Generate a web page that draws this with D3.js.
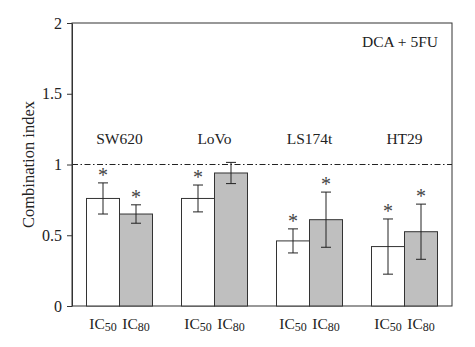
<!DOCTYPE html>
<html>
<head>
<meta charset="utf-8">
<script src="https://cdn.jsdelivr.net/npm/d3@7"></script>
<style>
  body { margin: 0; background: #fff; }
  text { font-family: "Liberation Serif", "DejaVu Serif", serif; fill: #222; }
</style>
</head>
<body>
<svg id="chart"></svg>
<script>
const cellLines = ["SW620", "LoVo", "LS174t", "HT29"];
const doses = ["IC50", "IC80"];
const ic50Values = [0.76, 0.76, 0.46, 0.42];
const ic50Errors = [0.11, 0.095, 0.085, 0.195];
const ic80Values = [0.65, 0.94, 0.61, 0.525];
const ic80Errors = [0.065, 0.075, 0.195, 0.195];
const yTicks = [0, 0.5, 1, 1.5, 2];

const data = [];
cellLines.forEach((c, i) => {
    data.push({ cell: c, dose: "IC50", value: ic50Values[i], err: ic50Errors[i] });
    data.push({ cell: c, dose: "IC80", value: ic80Values[i], err: ic80Errors[i] });
});

const W = 475, H = 347;
const margin = { top: 23, right: 23, bottom: 41, left: 72 };
const width = W - margin.left - margin.right;
const height = H - margin.top - margin.bottom;

const svg = d3.select("#chart").attr("width", W).attr("height", H)
    .append("g")
    .attr("transform", `translate(${margin.left},${margin.top})`);

const x0 = d3.scaleBand().domain(cellLines).range([0, width]).padding(0);
const x1 = d3.scaleBand().domain(doses).range([x0.bandwidth() / 2 - 33, x0.bandwidth() / 2 + 33]).padding(0);
const y = d3.scaleLinear().domain([0, 2]).range([height, 0]);
const fill = { IC50: "#ffffff", IC80: "#bfbfbf" };

// frame
svg.append("rect")
    .attr("x", 0).attr("y", 0)
    .attr("width", width).attr("height", height)
    .attr("fill", "none").attr("stroke", "#333").attr("stroke-width", 1);

// reference line at CI = 1
svg.append("line")
    .attr("x1", 0).attr("x2", width)
    .attr("y1", y(1)).attr("y2", y(1))
    .attr("stroke", "#222").attr("stroke-width", 1)
    .attr("stroke-dasharray", "6,2.5,1.5,2.5");

const groups = svg.selectAll(".grp").data(cellLines).enter().append("g")
    .attr("transform", d => `translate(${x0(d)},0)`);

groups.append("text")
    .attr("x", x0.bandwidth() / 2)
    .attr("y", y(1.2) + 8)
    .attr("text-anchor", "middle")
    .style("font-size", "15.5px")
    .text(d => d);

const bars = groups.selectAll(".bar")
    .data(c => data.filter(d => d.cell === c))
    .enter().append("g");

bars.append("rect")
    .attr("x", d => x1(d.dose))
    .attr("y", d => y(d.value))
    .attr("width", x1.bandwidth())
    .attr("height", d => height - y(d.value))
    .attr("fill", d => fill[d.dose])
    .attr("stroke", "#333").attr("stroke-width", 1);

const cx = d => x1(d.dose) + x1.bandwidth() / 2;
bars.append("line")
    .attr("x1", cx).attr("x2", cx)
    .attr("y1", d => y(d.value + d.err)).attr("y2", d => y(d.value - d.err))
    .attr("stroke", "#222");
[1, -1].forEach(s => {
    bars.append("line")
        .attr("x1", d => cx(d) - 5).attr("x2", d => cx(d) + 5)
        .attr("y1", d => y(d.value + s * d.err)).attr("y2", d => y(d.value + s * d.err))
        .attr("stroke", "#222");
});

bars.filter(d => !(d.cell === "LoVo" && d.dose === "IC80"))
    .append("text")
    .attr("x", cx)
    .attr("y", d => y(d.value + d.err) - 1)
    .attr("text-anchor", "middle")
    .style("font-size", "20px")
    .style("fill", "#444")
    .text("*");

// dose labels with subscripts
bars.append("text")
    .attr("x", cx)
    .attr("y", height + 23)
    .attr("text-anchor", "middle")
    .style("font-size", "15.5px")
    .each(function(d) {
        const t = d3.select(this);
        t.append("tspan").text("IC");
        t.append("tspan").attr("dy", 2).style("font-size", "12px").text(d.dose.slice(2));
    });

// y axis
const yAxis = svg.append("g")
    .call(d3.axisLeft(y).tickValues(yTicks).tickFormat(d3.format("")).tickSize(5).tickSizeOuter(0).tickPadding(5));
yAxis.select(".domain").attr("stroke", "#333");
yAxis.selectAll(".tick line").attr("stroke", "#333");
yAxis.selectAll("text").style("font-size", "16px").attr("fill", "#222").attr("dy", "0.32em")
    .style("font-family", "Liberation Serif, serif");

svg.append("text")
    .attr("transform", `translate(-38,${height / 2}) rotate(-90)`)
    .attr("text-anchor", "middle")
    .style("font-size", "16.5px")
    .text("Combination index");

svg.append("text")
    .attr("x", width - 14)
    .attr("y", y(1.87) + 6)
    .attr("text-anchor", "end")
    .style("font-size", "15.5px")
    .text("DCA + 5FU");
</script>
</body>
</html>
